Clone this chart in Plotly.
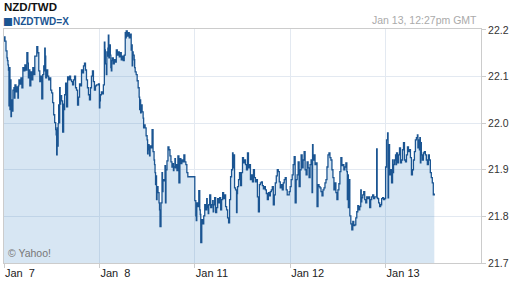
import plotly.graph_objects as go

# Trading-day labels (weekend skipped)
day_labels = ["Jan\u00a0\u00a07", "Jan\u00a0\u00a08", "Jan 11", "Jan 12", "Jan 13"]
y_ticks = [21.7, 21.8, 21.9, 22.0, 22.1, 22.2]

# hour of day (GMT) and NZD/TWD rate, one pair of lists per trading day
jan7_h = [0, 0.125, 0.25, 0.5, 0.75, 0.875, 1.0, 1.125, 1.25, 1.375, 1.5, 1.625, 1.75, 1.875, 2.0, 2.25, 2.5, 2.625, 2.75, 3.0,
          3.25, 3.5, 3.625, 3.75, 4.0, 4.25, 4.5, 4.75, 5.0, 5.25, 5.5, 5.75, 6.0, 6.125, 6.25, 6.5, 6.75, 7.0, 7.25, 7.5,
          7.75, 8.0, 8.25, 8.5, 8.75, 9.0, 9.25, 9.5, 9.75, 10.0, 10.125, 10.25, 10.375, 10.5, 10.75, 11.0, 11.25, 11.5, 11.75, 12.0,
          12.25, 12.5, 12.75, 13.0, 13.125, 13.25, 13.375, 13.5, 13.625, 13.75, 13.875, 14.0, 14.125, 14.25, 14.5, 14.75, 15.0, 15.125, 15.25, 15.5,
          15.75, 16.0, 16.25, 16.5, 16.75, 17.0, 17.25, 17.5, 17.75, 18.0, 18.25, 18.5, 18.75, 19.0, 19.25, 19.5, 19.75, 20.0, 20.25, 20.5,
          20.75, 21.0, 21.25, 21.5, 21.75, 22.0, 22.25, 22.5, 22.75, 23.0, 23.25, 23.5, 23.75]
jan7_v = [22.176, 22.185, 22.176, 22.155, 22.140, 22.134, 22.125, 22.114, 22.037, 22.119, 22.029, 22.093, 22.014, 22.050, 22.026, 22.071, 22.076, 22.054, 22.082, 22.067,
          22.078, 22.054, 22.080, 22.093, 22.084, 22.097, 22.076, 22.119, 22.112, 22.125, 22.114, 22.151, 22.129, 22.097, 22.114, 22.080, 22.110, 22.093, 22.119, 22.104,
          22.144, 22.144, 22.164, 22.151, 22.112, 22.089, 22.101, 22.052, 22.104, 22.123, 22.112, 22.161, 22.144, 22.097, 22.114, 22.101, 22.093, 22.097, 22.071, 22.065,
          22.044, 22.018, 22.001, 21.986, 21.975, 21.932, 21.990, 21.951, 21.999, 22.039, 22.001, 22.076, 22.041, 22.059, 22.048, 21.981, 22.041, 22.029, 22.061, 22.086,
          22.035, 22.099, 22.093, 22.101, 22.093, 22.089, 22.082, 22.093, 22.101, 22.076, 22.071, 22.039, 22.056, 22.084, 22.080, 22.114, 22.108, 22.123, 22.129, 22.114,
          22.093, 22.076, 22.061, 22.050, 22.076, 22.101, 22.112, 22.089, 22.071, 22.080, 22.082, 22.082, 22.084]

jan8_h = [0.0, 0.125, 0.25, 0.5, 0.75, 1.0, 1.25, 1.375, 1.5, 1.75, 1.875, 2.0, 2.125, 2.25, 2.375, 2.5, 2.75, 2.875, 3.0, 3.125,
          3.25, 3.5, 3.75, 4.0, 4.25, 4.5, 4.75, 5.0, 5.25, 5.5, 5.75, 6.0, 6.25, 6.5, 6.625, 6.75, 7.0, 7.25, 7.5, 7.75,
          8.0, 8.125, 8.25, 8.375, 8.5, 8.75, 8.875, 9.0, 9.25, 9.5, 9.75, 10.0, 10.125, 10.25, 10.375, 10.5, 10.75, 11.0, 11.125, 11.25,
          11.5, 11.75, 12.0, 12.125, 12.25, 12.5, 12.625, 12.75, 13.0, 13.25, 13.5, 13.75, 13.875, 14.0, 14.125, 14.25, 14.375, 14.5, 14.75, 15.0,
          15.125, 15.25, 15.5, 15.75, 15.875, 16.0, 16.25, 16.5, 16.625, 16.75, 17.0, 17.25, 17.5, 17.75, 18.0, 18.25, 18.5, 18.625, 18.75, 19.0,
          19.125, 19.25, 19.5, 19.75, 20.0, 20.25, 20.5, 20.75, 21.0, 21.25, 21.5, 21.75, 22.0, 22.25, 23.75]
jan8_v = [22.033, 22.048, 22.061, 22.067, 22.063, 22.082, 22.174, 22.157, 22.127, 22.104, 22.153, 22.144, 22.161, 22.189, 22.140, 22.168, 22.146, 22.119, 22.112, 22.134,
          22.140, 22.127, 22.136, 22.131, 22.157, 22.146, 22.153, 22.142, 22.151, 22.136, 22.144, 22.134, 22.146, 22.194, 22.183, 22.198, 22.187, 22.194, 22.183, 22.191,
          22.157, 22.168, 22.123, 22.153, 22.146, 22.136, 22.119, 22.110, 22.104, 22.091, 22.076, 22.056, 22.029, 22.050, 22.022, 22.039, 22.024, 22.011, 21.990, 21.996,
          21.990, 21.973, 21.964, 21.934, 21.954, 21.943, 21.930, 21.951, 21.947, 21.986, 21.939, 21.921, 21.911, 21.894, 21.868, 21.887, 21.836, 21.864, 21.851, 21.829,
          21.814, 21.778, 21.829, 21.894, 21.853, 21.879, 21.876, 21.909, 21.829, 21.900, 21.919, 21.949, 21.943, 21.930, 21.917, 21.906, 21.913, 21.898, 21.906, 21.924,
          21.904, 21.911, 21.898, 21.930, 21.872, 21.924, 21.913, 21.921, 21.917, 21.932, 21.917, 21.911, 21.894, 21.885, 21.885]

jan11_h = [0.0, 0.25, 0.375, 0.5, 0.75, 1.0, 1.25, 1.375, 1.5, 1.75, 2.0, 2.25, 2.5, 2.75, 3.0, 3.125, 3.25, 3.375, 3.5, 3.75,
           4.0, 4.25, 4.5, 4.625, 4.75, 5.0, 5.25, 5.5, 5.75, 6.0, 6.25, 6.5, 6.75, 7.0, 7.25, 7.5, 7.75, 8.0, 8.25, 8.5,
           8.75, 9.0, 9.25, 9.5, 9.625, 9.75, 10.0, 10.25, 10.5, 10.625, 10.75, 11.0, 11.25, 11.5, 11.75, 12.0, 12.25, 12.5, 12.75, 13.0,
           13.25, 13.5, 13.75, 14.0, 14.25, 14.5, 14.75, 15.0, 15.25, 15.5, 15.75, 16.0, 16.25, 16.5, 16.75, 17.0, 17.25, 17.5, 17.75, 18.0,
           18.25, 18.5, 18.75, 19.0, 19.25, 19.5, 19.75, 20.0, 20.25, 20.5, 20.75, 21.0, 21.25, 21.5, 21.75, 22.0, 22.25, 22.5, 22.75, 23.0,
           23.25, 23.5, 23.75]
jan11_v = [21.834, 21.801, 21.791, 21.829, 21.821, 21.855, 21.814, 21.804, 21.744, 21.793, 21.784, 21.801, 21.825, 21.814, 21.838, 21.819, 21.823, 21.806, 21.825, 21.846,
           21.819, 21.825, 21.834, 21.810, 21.825, 21.840, 21.808, 21.819, 21.838, 21.829, 21.840, 21.814, 21.836, 21.851, 21.838, 21.846, 21.821, 21.814, 21.797, 21.786,
           21.836, 21.885, 21.900, 21.936, 21.904, 21.932, 21.861, 21.857, 21.808, 21.849, 21.864, 21.879, 21.894, 21.866, 21.894, 21.926, 21.915, 21.921, 21.911, 21.900,
           21.936, 21.904, 21.911, 21.879, 21.889, 21.874, 21.900, 21.883, 21.874, 21.879, 21.842, 21.810, 21.868, 21.872, 21.874, 21.866, 21.859, 21.864, 21.857, 21.849,
           21.836, 21.851, 21.844, 21.853, 21.857, 21.864, 21.825, 21.846, 21.872, 21.887, 21.900, 21.896, 21.874, 21.861, 21.868, 21.857, 21.872, 21.879, 21.883, 21.857,
           21.846, 21.846, 21.853]

jan12_h = [0.0, 0.25, 0.5, 0.75, 1.0, 1.25, 1.5, 1.75, 2.0, 2.25, 2.5, 2.75, 3.0, 3.25, 3.5, 3.75, 4.0, 4.25, 4.5, 4.75,
           5.0, 5.25, 5.5, 5.625, 5.75, 6.0, 6.25, 6.5, 6.75, 7.0, 7.25, 7.5, 7.75, 8.0, 8.25, 8.5, 8.75, 9.0, 9.25, 9.5,
           9.75, 10.0, 10.25, 10.5, 10.75, 11.0, 11.25, 11.5, 11.75, 12.0, 12.25, 12.5, 12.75, 13.0, 13.25, 13.5, 13.75, 14.0, 14.25, 14.375,
           14.5, 14.625, 14.75, 15.0, 15.25, 15.5, 15.75, 16.0, 16.25, 16.5, 16.75, 17.0, 17.25, 17.5, 17.75, 17.875, 18.0, 18.25, 18.5, 18.75,
           19.0, 19.25, 19.5, 19.75, 20.0, 20.25, 20.5, 20.75, 21.0, 21.25, 21.5, 21.75, 21.875, 22.0, 22.25, 22.5, 22.75, 23.0, 23.25, 23.5,
           23.75]
jan12_v = [21.864, 21.879, 21.889, 21.911, 21.928, 21.829, 21.879, 21.889, 21.917, 21.864, 21.900, 21.932, 21.904, 21.921, 21.939, 21.900, 21.889, 21.917, 21.904, 21.883,
           21.911, 21.921, 21.851, 21.954, 21.921, 21.932, 21.911, 21.915, 21.821, 21.868, 21.864, 21.861, 21.853, 21.844, 21.857, 21.861, 21.872, 21.879, 21.906, 21.932,
           21.936, 21.926, 21.921, 21.900, 21.883, 21.857, 21.872, 21.851, 21.836, 21.857, 21.870, 21.896, 21.926, 21.909, 21.911, 21.900, 21.906, 21.915, 21.896, 21.836,
           21.889, 21.819, 21.879, 21.801, 21.784, 21.771, 21.789, 21.780, 21.782, 21.797, 21.810, 21.823, 21.814, 21.821, 21.857, 21.831, 21.840, 21.846, 21.853, 21.836,
           21.829, 21.842, 21.838, 21.842, 21.819, 21.836, 21.842, 21.846, 21.838, 21.842, 21.842, 21.945, 21.840, 21.838, 21.829, 21.821, 21.825, 21.838, 21.840, 21.836,
           21.838]

jan13_h = [0.0, 0.25, 0.5, 0.625, 0.75, 1.0, 1.25, 1.5, 1.75, 1.875, 2.0, 2.25, 2.5, 2.625, 2.75, 3.0, 3.25, 3.5, 3.75, 4.0,
           4.25, 4.5, 4.75, 5.0, 5.25, 5.5, 5.75, 6.0, 6.25, 6.5, 6.75, 7.0, 7.25, 7.5, 7.75, 8.0, 8.125, 8.25, 8.5, 8.625,
           8.75, 8.875, 9.0, 9.25, 9.5, 9.75, 10.0, 10.25, 10.5, 10.75, 11.0, 11.25, 11.5, 11.75, 12.0, 12.25]
jan13_v = [21.906, 21.964, 21.979, 21.840, 21.954, 21.889, 21.900, 21.872, 21.921, 21.894, 21.911, 21.921, 21.932, 21.911, 21.936, 21.915, 21.932, 21.947, 21.915, 21.921,
           21.943, 21.958, 21.921, 21.917, 21.932, 21.949, 21.939, 21.943, 21.926, 21.889, 21.900, 21.921, 21.939, 21.964, 21.969, 21.975, 21.947, 21.964, 21.943, 21.969,
           21.915, 21.958, 21.932, 21.921, 21.936, 21.939, 21.932, 21.921, 21.911, 21.932, 21.921, 21.894, 21.883, 21.872, 21.846, 21.849]

days = [(jan7_h, jan7_v), (jan8_h, jan8_v), (jan11_h, jan11_v), (jan12_h, jan12_v), (jan13_h, jan13_v)]
xs, ys = [], []
for i, (hh, vv) in enumerate(days):
    n = min(len(hh), len(vv))
    xs += [i + h / 24.0 for h in hh[:n]]
    ys += vv[:n]

LINE = "#1b5592"
fig = go.Figure()
fig.add_trace(go.Scatter(
    x=xs, y=ys, mode="lines", line=dict(color=LINE, width=1.3, shape="hv"),
    fill="tozeroy", fillcolor="rgba(40,120,190,0.19)", showlegend=False, hoverinfo="skip"))

fig.update_layout(
    width=512, height=288, margin=dict(l=3, r=30, t=29, b=25),
    paper_bgcolor="white", plot_bgcolor="white",
    font=dict(family="Liberation Sans, Arial, sans-serif", size=11, color="#222"),
    xaxis=dict(range=[0, 5], tickmode="array", tickvals=list(range(len(day_labels))), ticktext=day_labels,
               showgrid=True, gridcolor="#e3e9f1", gridwidth=1, zeroline=False,
               showline=True, linecolor="#cccccc", mirror=True,
               ticks="outside", ticklen=4, tickcolor="#cccccc",
               ticklabelposition="outside right", tickfont=dict(size=11, color="#222")),
    yaxis=dict(range=[21.7, 22.202], side="right", tickmode="array", tickvals=y_ticks,
               ticktext=[f"{v:.1f}" for v in y_ticks],
               showgrid=True, gridcolor="#e3e9f1", gridwidth=1, zeroline=False,
               showline=True, linecolor="#cccccc", mirror=True,
               ticks="outside", ticklen=4, tickcolor="#cccccc",
               tickfont=dict(size=10.5, color="#333")),
)

fig.add_annotation(text="<b>NZD/TWD</b>", xref="paper", yref="paper", x=0, y=1.0,
                   xanchor="left", yanchor="bottom", yshift=14, xshift=-2, showarrow=False,
                   font=dict(size=11.5, color="#111"))
fig.add_annotation(text="■", xref="paper", yref="paper", x=0, y=1.0,
                   xanchor="left", yanchor="bottom", yshift=0, xshift=-3, showarrow=False,
                   font=dict(family="DejaVu Sans", size=10.5, color=LINE))
fig.add_annotation(text="<b>NZDTWD=X</b>", xref="paper", yref="paper", x=0, y=1.0,
                   xanchor="left", yanchor="bottom", yshift=0, xshift=7, showarrow=False,
                   font=dict(size=10, color=LINE))
fig.add_annotation(text="Jan 13, 12:27pm GMT", xref="paper", yref="paper", x=1.0, y=1.0,
                   xanchor="right", yanchor="bottom", yshift=1, xshift=-2, showarrow=False,
                   font=dict(size=10.5, color="#aaaaaa"))
fig.add_annotation(text="© Yahoo!", xref="paper", yref="paper", x=0, y=0,
                   xanchor="left", yanchor="bottom", xshift=2, yshift=2, showarrow=False,
                   font=dict(size=10.5, color="#777777"))

fig.write_html("out.html")
